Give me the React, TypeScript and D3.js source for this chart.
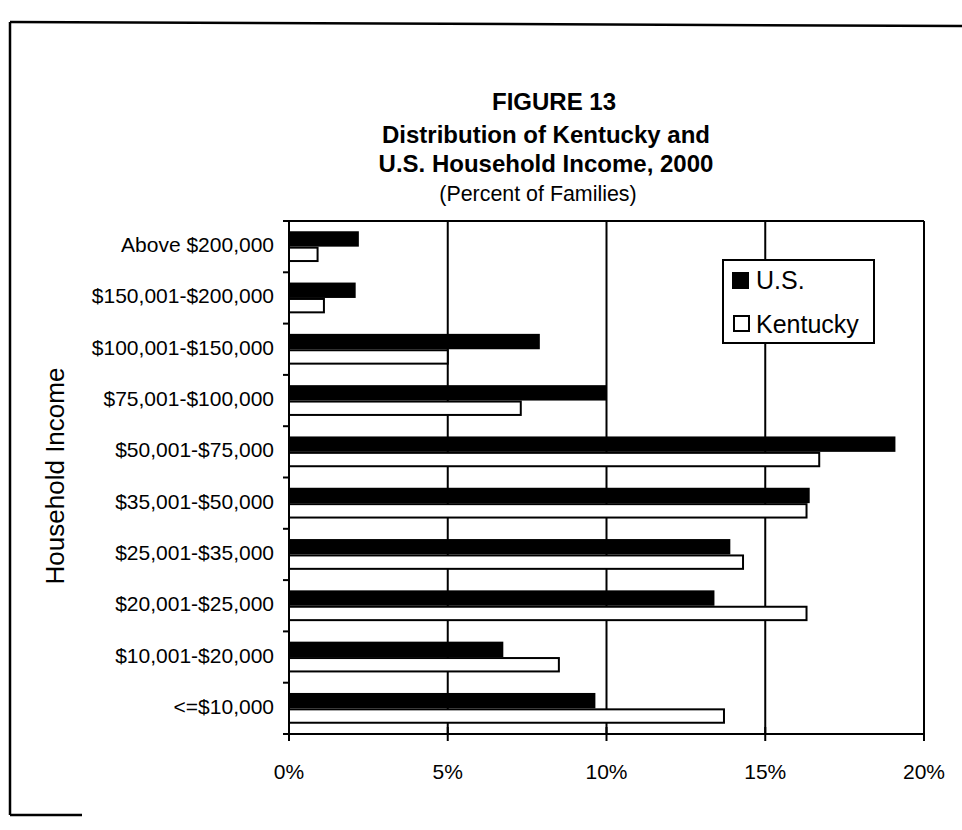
import React from "react";
import * as d3 from "d3";

const categories = [
  "Above $200,000",
  "$150,001-$200,000",
  "$100,001-$150,000",
  "$75,001-$100,000",
  "$50,001-$75,000",
  "$35,001-$50,000",
  "$25,001-$35,000",
  "$20,001-$25,000",
  "$10,001-$20,000",
  "<=$10,000",
];
const usValues = [2.2, 2.1, 7.9, 10.0, 19.1, 16.4, 13.9, 13.4, 6.75, 9.65];
const kyValues = [0.9, 1.1, 5.0, 7.3, 16.7, 16.3, 14.3, 16.3, 8.5, 13.7];
const seriesNames = ["U.S.", "Kentucky"];
const xTicks = [0, 5, 10, 15, 20];
const xTickLabels = ["0%", "5%", "10%", "15%", "20%"];
const titleLines = ["FIGURE 13", "Distribution of Kentucky and", "U.S. Household Income, 2000"];
const subtitle = "(Percent of Families)";
const yTitle = "Household Income";

const FONT = "'Liberation Sans', Arial, Helvetica, sans-serif";

export default function App() {
  const W = 962;
  const H = 830;
  const left = 289;
  const right = 924;
  const top = 221;
  const bottom = 734;

  const x = d3.scaleLinear().domain([0, 20]).range([left, right]);
  const y = d3
    .scaleBand<string>()
    .domain(categories)
    .range([top, bottom])
    .paddingInner(0.4)
    .paddingOuter(0.2);
  const sub = d3.scaleBand<string>().domain(seriesNames).range([0, y.bandwidth()]);
  const step = y.step();
  const boundaries = d3.range(categories.length + 1).map((i) => top + i * step);

  const stroke = "#000";
  const sw = 2;
  const tc = 546;

  return (
    <svg
      width={W}
      height={H}
      style={{ position: "absolute", left: 0, top: 0, background: "#fff" }}
      fontFamily={FONT}
    >
      <rect x={0} y={0} width={W} height={H} fill="#fff" />
      {/* outer frame (partially cropped) */}
      <line x1={10} y1={22} x2={962} y2={26} stroke={stroke} strokeWidth={2.5} />
      <line x1={10} y1={22} x2={10} y2={815} stroke={stroke} strokeWidth={2.5} />
      <line x1={10} y1={815} x2={82} y2={815} stroke={stroke} strokeWidth={2.5} />

      {/* titles */}
      <g textAnchor="middle" fontWeight="bold" fontSize={24} fill="#000">
        <text x={tc + 8} y={110}>{titleLines[0]}</text>
        <text x={tc} y={143}>{titleLines[1]}</text>
        <text x={tc} y={172}>{titleLines[2]}</text>
      </g>
      <text x={tc - 8} y={201} textAnchor="middle" fontSize={21.4} fill="#000">
        {subtitle}
      </text>

      {/* plot top border */}
      <line x1={left} y1={top} x2={right} y2={top} stroke={stroke} strokeWidth={sw} />
      {/* gridlines */}
      {xTicks
        .filter((t) => t > 0)
        .map((t) => (
          <line key={"g" + t} x1={x(t)} y1={top} x2={x(t)} y2={bottom} stroke={stroke} strokeWidth={sw} />
        ))}

      {/* bars */}
      {categories.map((c, i) => {
        const y0 = y(c)!;
        return (
          <g key={c}>
            <rect
              x={x(0)}
              y={y0 + sub("U.S.")!}
              width={x(usValues[i]) - x(0)}
              height={sub.bandwidth()}
              fill="#000"
            />
            <rect
              x={x(0)}
              y={y0 + sub("Kentucky")! + 1}
              width={x(kyValues[i]) - x(0)}
              height={sub.bandwidth() - 2}
              fill="#fff"
              stroke={stroke}
              strokeWidth={sw}
            />
          </g>
        );
      })}

      {/* y axis */}
      <line x1={left} y1={top} x2={left} y2={bottom + 6} stroke={stroke} strokeWidth={sw} />
      {boundaries.map((b, i) => (
        <line key={"yt" + i} x1={left - 6} y1={b} x2={left} y2={b} stroke={stroke} strokeWidth={sw} />
      ))}
      {categories.map((c) => (
        <text
          key={"l" + c}
          x={274}
          y={y(c)! + y.bandwidth() / 2 - 2 + 0.358 * 21}
          textAnchor="end"
          fontSize={21}
          fill="#000"
        >
          {c}
        </text>
      ))}

      {/* x axis */}
      <line x1={left - 6} y1={bottom} x2={right} y2={bottom} stroke={stroke} strokeWidth={sw} />
      {xTicks.map((t, i) => (
        <g key={"xt" + t}>
          <line x1={x(t)} y1={bottom - 7} x2={x(t)} y2={bottom + 7} stroke={stroke} strokeWidth={sw} />
          <text x={x(t)} y={779} textAnchor="middle" fontSize={21} fill="#000">
            {xTickLabels[i]}
          </text>
        </g>
      ))}

      {/* y title */}
      <text transform={`translate(64, 476) rotate(-90)`} textAnchor="middle" fontSize={26} fill="#000">
        {yTitle}
      </text>

      {/* legend */}
      <rect x={723} y={260} width={151} height={83} fill="#fff" stroke={stroke} strokeWidth={sw} />
      <rect x={732} y={272} width={17} height={17} fill="#000" />
      <text x={756} y={289} fontSize={25} fill="#000">
        {seriesNames[0]}
      </text>
      <rect x={734} y={316} width={15} height={15} fill="#fff" stroke={stroke} strokeWidth={sw} />
      <text x={756} y={333} fontSize={25} fill="#000">
        {seriesNames[1]}
      </text>
    </svg>
  );
}
